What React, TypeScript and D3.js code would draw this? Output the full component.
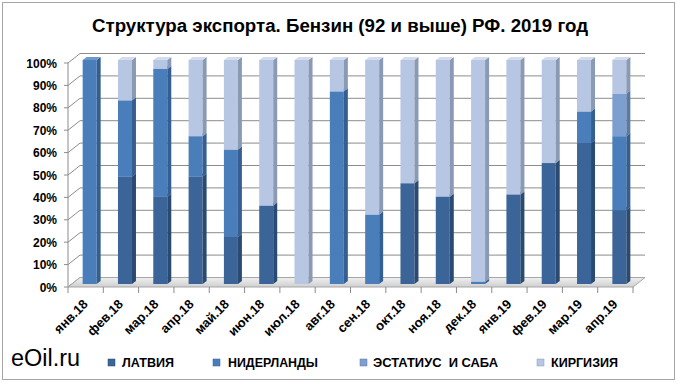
import React from "react";
import * as d3 from "d3";

const categories = ["янв.18","фев.18","мар.18","апр.18","май.18","июн.18","июл.18","авг.18","сен.18","окт.18","ноя.18","дек.18","янв.19","фев.19","мар.19","апр.19"];
const latvia =      [0, 48, 39, 48, 21, 35, 0, 0, 0, 45, 39, 0, 40, 54, 63, 33];
const netherlands = [100, 34, 57, 18, 39, 0, 0, 86, 31, 0, 0, 1, 0, 0, 14, 33];
const estatius =    [0, 0, 0, 0, 0, 0, 0, 0, 0, 0, 0, 0, 0, 0, 0, 19];
const kyrgyzstan =  [0, 18, 4, 34, 40, 65, 100, 14, 69, 55, 61, 99, 60, 46, 23, 15];
const seriesNames = ["ЛАТВИЯ", "НИДЕРЛАНДЫ", "ЭСТАТИУС  И САБА", "КИРГИЗИЯ"];
const yTicks = [0, 10, 20, 30, 40, 50, 60, 70, 80, 90, 100];

const colors = [
  { front: "#3b6598", side: "#2a4a72", top: "#5a82b4" },
  { front: "#4a7ebb", side: "#365f91", top: "#6d98cc" },
  { front: "#7d9fd0", side: "#5c79a4", top: "#a0bbe0" },
  { front: "#b7c6e2", side: "#8a99b4", top: "#d3ddef" },
];

const FONT = "'Liberation Sans', Arial, sans-serif";

export default function App() {
  const x0 = 68, x1 = 633, yBottom = 287, yTop = 63;
  const ddx = 12, ddy = -9.5;
  const bdx = 4, bdy = -3;
  const barW = 14, sdx = 4, sdy = -3;

  const x = d3.scaleBand().domain(categories).range([x0, x1]).paddingInner(0).paddingOuter(0);
  const y = d3.scaleLinear().domain([0, 100]).range([yBottom, yTop]);

  const stack = d3.stack<any>().keys(["a", "b", "c", "d"]);
  const rows = categories.map((c, i) => ({ cat: c, a: latvia[i], b: netherlands[i], c: estatius[i], d: kyrgyzstan[i] }));
  const layers = stack(rows);

  const segs: any[] = [];
  layers.forEach((layer, li) => {
    layer.forEach((s, i) => {
      if (s[1] - s[0] <= 0) return;
      segs.push({ li, i, y0: s[0], y1: s[1] });
    });
  });

  const bw = x.bandwidth();
  const legendItems = [
    { name: seriesNames[0], mx: 108, tx: 122, w: 52 },
    { name: seriesNames[1], mx: 213, tx: 228, w: 90 },
    { name: seriesNames[2], mx: 360, tx: 373, w: 125 },
    { name: seriesNames[3], mx: 537, tx: 551, w: 67 },
  ];

  return (
    <svg width={680} height={384} style={{ position: "absolute", left: 0, top: 0 }} fontFamily={FONT}>
      <defs>
        <linearGradient id="floorG" x1="0" y1="0" x2="0" y2="1">
          <stop offset="0" stopColor="#f0f0f0" />
          <stop offset="1" stopColor="#cfcfcf" />
        </linearGradient>
      </defs>
      <rect x={0} y={0} width={680} height={384} fill="#fff" />
      <rect x={2.5} y={2.5} width={672} height={377} fill="#fff" stroke="#a6a6a6" strokeWidth={1} />
      <text x={92} y={32} fontSize={18} fontWeight="bold" fill="#000" textLength={496} lengthAdjust="spacingAndGlyphs">
        Структура экспорта. Бензин (92 и выше) РФ. 2019 год
      </text>

      {/* back wall gridlines and left wall */}
      {yTicks.map((t) => (
        <g key={t}>
          <line x1={x0 + ddx} x2={x1 + ddx} y1={y(t) + ddy} y2={y(t) + ddy} stroke="#8c8c8c" strokeWidth={1} />
          <line x1={x0} x2={x0 + ddx} y1={y(t)} y2={y(t) + ddy} stroke="#8c8c8c" strokeWidth={1} />
          <line x1={x0 - 4} x2={x0} y1={y(t)} y2={y(t)} stroke="#8c8c8c" strokeWidth={1} />
          <text x={57} y={y(t) + 4.5} textAnchor="end" fontSize={12} fontWeight="bold" fill="#000">{t}%</text>
        </g>
      ))}
      <line x1={x0} x2={x0} y1={yTop} y2={yBottom} stroke="#8c8c8c" strokeWidth={1} />

      {/* floor */}
      <polygon
        points={`${x0},${yBottom} ${x1},${yBottom} ${x1 + ddx},${yBottom + ddy} ${x0 + ddx},${yBottom + ddy}`}
        fill="url(#floorG)" stroke="#a6a6a6" strokeWidth={1}
      />
      {d3.range(categories.length + 1).map((i) => {
        const xx = x0 + i * bw;
        return <line key={i} x1={xx} x2={xx} y1={yBottom} y2={yBottom + 6} stroke="#8c8c8c" strokeWidth={1} />;
      })}

      {/* bars */}
      {segs.map((s, k) => {
        const c = colors[s.li];
        const cx = (x(categories[s.i]) as number) + bw / 2 + bdx;
        const left = cx - barW / 2, right = cx + barW / 2;
        const yb = y(s.y0) + bdy, yt = y(s.y1) + bdy;
        return (
          <g key={k}>
            <rect x={left} y={yt} width={barW} height={yb - yt} fill={c.front} />
            <polygon points={`${right},${yb} ${right + sdx},${yb + sdy} ${right + sdx},${yt + sdy} ${right},${yt}`} fill={c.side} />
            <polygon points={`${left},${yt} ${right},${yt} ${right + sdx},${yt + sdy} ${left + sdx},${yt + sdy}`} fill={c.top} />
          </g>
        );
      })}

      {/* x labels */}
      {categories.map((c) => {
        const ax = (x(c) as number) + bw / 2 + 3;
        const ay = 305;
        return (
          <text key={c} transform={`translate(${ax},${ay}) rotate(-45)`} textAnchor="end" fontSize={13} fontWeight="bold" fill="#000">{c}</text>
        );
      })}

      {/* legend */}
      <text x={11} y={366} fontSize={23} fill="#000" textLength={69} lengthAdjust="spacingAndGlyphs">eOil.ru</text>
      {legendItems.map((it, i) => (
        <g key={i}>
          <rect x={it.mx} y={359} width={7} height={7} fill={colors[i].front} stroke={colors[i].side} strokeWidth={0.5} />
          <text x={it.tx} y={367} fontSize={13} fontWeight="bold" fill="#000" textLength={it.w} lengthAdjust="spacingAndGlyphs" style={{ whiteSpace: "pre" }}>{it.name}</text>
        </g>
      ))}
    </svg>
  );
}
